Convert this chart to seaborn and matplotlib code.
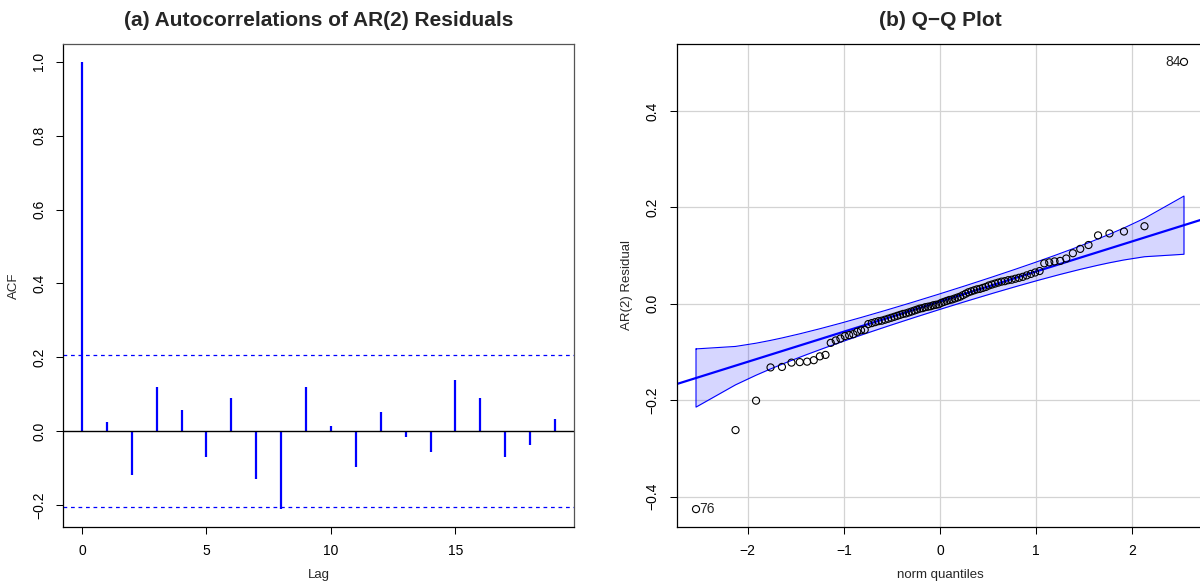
import numpy as np
import pandas as pd
import seaborn as sns
import matplotlib
matplotlib.use("Agg")
import matplotlib.pyplot as plt
from matplotlib.ticker import FuncFormatter
from statistics import NormalDist

# ACF of AR(2) residuals
lags = list(range(20))
acf_vals = [1.0, 0.025, -0.118, 0.119, 0.058, -0.069, 0.089, -0.130, -0.211, 0.120,
            0.015, -0.097, 0.051, -0.017, -0.057, 0.138, 0.089, -0.070, -0.038, 0.032]
ci_bound = 0.206

# sorted AR(2) residuals
resid_sorted = [
    -0.426, -0.262, -0.201, -0.132, -0.131, -0.122, -0.121, -0.120, -0.117, -0.109,
    -0.106, -0.081, -0.076, -0.072, -0.067, -0.065, -0.063, -0.058, -0.055, -0.054,
    -0.042, -0.040, -0.038, -0.036, -0.035, -0.033, -0.031, -0.029, -0.027, -0.025,
    -0.023, -0.021, -0.020, -0.018, -0.016, -0.014, -0.012, -0.010, -0.009, -0.007,
    -0.006, -0.005, -0.003, -0.002, -0.001, 0.002, 0.004, 0.006, 0.008, 0.009,
    0.011, 0.013, 0.015, 0.018, 0.021, 0.024, 0.026, 0.028, 0.030, 0.031,
    0.033, 0.035, 0.038, 0.040, 0.042, 0.044, 0.046, 0.047, 0.049, 0.050,
    0.052, 0.054, 0.056, 0.059, 0.062, 0.065, 0.068, 0.084, 0.086, 0.088,
    0.089, 0.094, 0.105, 0.114, 0.122, 0.142, 0.146, 0.150, 0.161, 0.502,
]
point_labels = {0: "76", 89: "84"}  # rank index -> observation number

BLUE = "#0000FF"

sns.set_theme(style="white")
plt.rcParams["font.family"] = ["Liberation Sans", "DejaVu Sans"]
plt.rcParams.update({
    "xtick.direction": "out", "ytick.direction": "out",
    "xtick.bottom": True, "ytick.left": True,
    "xtick.major.size": 5, "ytick.major.size": 5,
    "xtick.major.width": 0.75, "ytick.major.width": 0.75,
    "xtick.color": "black", "ytick.color": "black",
    "xtick.labelsize": 10, "ytick.labelsize": 10,
    "axes.edgecolor": "black", "axes.linewidth": 0.9,
})

minus = FuncFormatter(lambda v, p: f"{v:.1f}".replace("-", "\u2212"))

fig = plt.figure(figsize=(12, 5.82), dpi=100)
axl = fig.add_axes([63 / 1200, 55 / 582, 511 / 1200, 483 / 582])
axr = fig.add_axes([676.5 / 1200, 55 / 582, 527 / 1200, 483 / 582])

# ---- (a) ACF ----
acf_df = pd.DataFrame({"lag": lags, "acf": acf_vals})
axl.vlines(acf_df["lag"], 0, acf_df["acf"], color=BLUE, lw=1.6)
axl.axhline(0, color="black", lw=1)
for b in (ci_bound, -ci_bound):
    axl.axhline(b, color=BLUE, lw=0.9, dashes=(3, 3))
lo = min(acf_df["acf"].min(), -ci_bound)
hi = max(acf_df["acf"].max(), ci_bound)
pad = 0.04 * (hi - lo)
axl.set_ylim(lo - pad, hi + pad)
axl.set_xlim(-0.04 * 19, 19 * 1.04)
axl.set_xticks([0, 5, 10, 15])
axl.set_yticks([-0.2, 0.0, 0.2, 0.4, 0.6, 0.8, 1.0])
axl.yaxis.set_major_formatter(minus)
axl.set_xlabel("Lag", fontsize=9.5, labelpad=8)
axl.set_ylabel("ACF", fontsize=9.5, labelpad=9)
for s in axl.spines.values():
    s.set_color("#555555")
axl.spines["left"].set_color("black")
axl.spines["bottom"].set_color("black")

# ---- (b) Q-Q plot ----
nd = NormalDist()
n = len(resid_sorted)
y = np.array(resid_sorted)
P = (np.arange(1, n + 1) - 0.5) / n
z = np.array([nd.inv_cdf(p) for p in P])

q1, q3 = np.quantile(y, [0.25, 0.75])
z1, z3 = nd.inv_cdf(0.25), nd.inv_cdf(0.75)
slope = (q3 - q1) / (z3 - z1)
intercept = q1 - slope * z1
fit = intercept + slope * z
dens = np.array([nd.pdf(v) for v in z])
se = slope / dens * np.sqrt(P * (1 - P) / n)
zz = nd.inv_cdf(0.975)
upper, lower = fit + zz * se, fit - zz * se

axr.grid(True, color="#d3d3d3", lw=0.9)
axr.set_axisbelow(True)
axr.fill_between(z, lower, upper, color=BLUE, alpha=0.16, lw=0)
axr.plot(np.r_[z, z[::-1], z[0]], np.r_[upper, lower[::-1], upper[0]], color=BLUE, lw=0.8)
axr.axline((0, intercept), slope=slope, color=BLUE, lw=1.6)
qq = pd.DataFrame({"q": z, "r": y})
sns.scatterplot(data=qq, x="q", y="r", ax=axr, marker="o", s=26,
                facecolor="none", edgecolor="black", linewidth=0.8, zorder=5)
for idx, lab in point_labels.items():
    if z[idx] < 0:
        axr.annotate(lab, (z[idx], y[idx]), xytext=(2.5, 0), textcoords="offset points",
                     ha="left", va="center", fontsize=10)
    else:
        axr.annotate(lab, (z[idx], y[idx]), xytext=(-2.5, 0), textcoords="offset points",
                     ha="right", va="center", fontsize=10)

zr = z.max() - z.min()
axr.set_xlim(z.min() - 0.04 * zr, z.max() + 0.04 * zr)
yr = y.max() - y.min()
axr.set_ylim(y.min() - 0.04 * yr, y.max() + 0.04 * yr)
axr.set_xticks([-2, -1, 0, 1, 2])
axr.set_yticks([-0.4, -0.2, 0.0, 0.2, 0.4])
axr.yaxis.set_major_formatter(minus)
axr.set_xlabel("norm quantiles", fontsize=9.5, labelpad=8)
axr.set_ylabel("AR(2) Residual", fontsize=9.5, labelpad=9)

for ax in (axl, axr):
    ax.tick_params(axis="y", labelrotation=90, pad=7)
    ax.tick_params(axis="x", pad=7)
    for t in ax.get_yticklabels():
        t.set_va("center")

fig.text((63 + 574) / 2 / 1200, 1 - 20 / 582, "(a) Autocorrelations of AR(2) Residuals",
         ha="center", va="center", fontsize=15, fontweight="bold")
fig.text(940 / 1200, 1 - 20 / 582, "(b) Q\u2212Q Plot",
         ha="center", va="center", fontsize=15, fontweight="bold")

fig.savefig("out.png", dpi=100)
